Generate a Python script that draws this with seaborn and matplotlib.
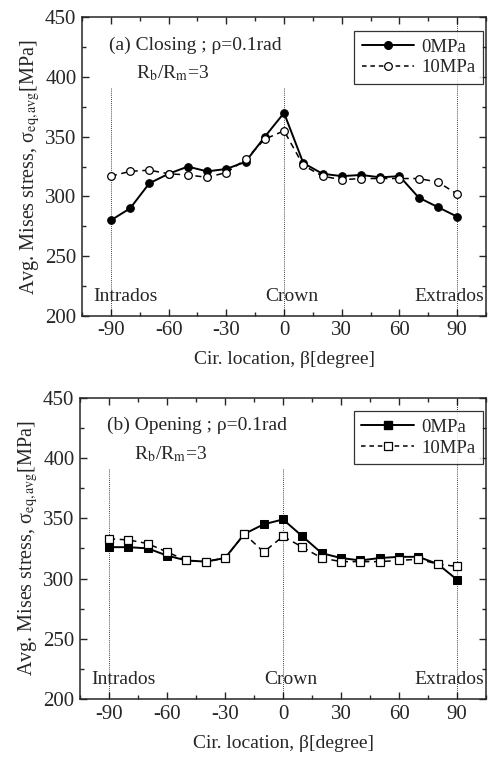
import numpy as np
import pandas as pd
import matplotlib
matplotlib.use("Agg")
import matplotlib.pyplot as plt
from matplotlib.ticker import MultipleLocator
from matplotlib.lines import Line2D
import seaborn as sns

sns.set_style("ticks")
plt.rcParams['font.family'] = ['Liberation Serif', 'DejaVu Serif']
plt.rcParams['mathtext.fontset'] = 'stix'
plt.rcParams['axes.unicode_minus'] = False

# circumferential location, degrees
beta = [-90, -80, -70, -60, -50, -40, -30, -20, -10, 0,
        10, 20, 30, 40, 50, 60, 70, 80, 90]

# (a) closing
closing_0 = [280, 290, 311, 319, 325, 321, 323, 329, 350, 370,
             328, 319, 317, 318, 316, 317, 299, 291, 283]
closing_10 = [317, 321, 322, 319, 318, 316, 320, 331, 348, 355,
              326, 317, 314, 315, 315, 315, 315, 312, 302]

# (b) opening
opening_0 = [326, 326, 325, 319, 315, 314, 317, 337, 345, 349,
             335, 321, 317, 315, 317, 318, 318, 312, 299]
opening_10 = [333, 332, 329, 322, 315, 314, 317, 337, 322, 335,
              326, 317, 314, 314, 314, 315, 316, 312, 310]

pressures = ['0MPa', '10MPa']

fig = plt.figure(figsize=(4.91, 7.59), dpi=100)
ax1 = fig.add_axes([0.167, 0.584, 0.823, 0.393])
ax2 = fig.add_axes([0.163, 0.079, 0.827, 0.397])


def panel(ax, y0, y10, marker, title):
    df = pd.DataFrame({'beta': beta * 2,
                       'stress': y0 + y10,
                       'p': [pressures[0]] * len(beta) + [pressures[1]] * len(beta)})
    # guide lines at intrados / crown / extrados
    for xv in (-90, 0, 90):
        ax.plot([xv, xv], [200, 392 if xv != 90 else 450], color='black',
                lw=0.6, ls=(0, (1, 1.5)), zorder=1)
    sns.lineplot(data=df[df.p == '0MPa'], x='beta', y='stress', ax=ax,
                 color='black', lw=1.4, marker=marker, ms=5.5,
                 mfc='black', mec='black', zorder=3)
    sns.lineplot(data=df[df.p == '10MPa'], x='beta', y='stress', ax=ax,
                 color='black', lw=1.1, ls=(0, (4, 3)), marker=marker, ms=5.5,
                 mfc='white', mec='black', mew=0.9, zorder=4)

    ax.set_xlim(-105, 105)
    ax.set_ylim(200, 450)
    ax.xaxis.set_major_locator(MultipleLocator(30))
    ax.xaxis.set_minor_locator(MultipleLocator(15))
    ax.yaxis.set_major_locator(MultipleLocator(50))
    ax.yaxis.set_minor_locator(MultipleLocator(25))
    ax.tick_params(which='both', direction='in', top=True, right=True,
                   labelsize=15, width=1.0)
    ax.tick_params(which='major', length=5, pad=4)
    ax.tick_params(which='minor', length=3)
    for s in ax.spines.values():
        s.set_linewidth(1.1)
    ax.set_xlabel('Cir. location, β[degree]', fontsize=14, labelpad=8)
    ax.set_ylabel(r'Avg. Mises stress, σ$_{\rm eq,avg}$[MPa]', fontsize=14.5, labelpad=2)

    ax.text(-99, 216, 'Intrados', fontsize=14, ha='left', va='center')
    ax.text(4, 216, 'Crown', fontsize=14, ha='center', va='center')
    ax.text(104, 216, 'Extrados', fontsize=14, ha='right', va='center')
    ax.text(-91, 427, title, fontsize=14, ha='left', va='center')
    ax.text(-77, 403, r'R$_{\rm b}$/R$_{\rm m}$=3', fontsize=14, ha='left', va='center')

    handles = [Line2D([], [], color='black', lw=1.4, marker=marker, ms=5.5,
                      mfc='black', mec='black'),
               Line2D([], [], color='black', lw=1.1, ls=(0, (3, 2.5)), marker=marker, ms=5.5,
                      mfc='white', mec='black', mew=0.9)]
    leg = ax.legend(handles, pressures, loc='upper right', bbox_to_anchor=(0.993, 0.955),
                    fontsize=13.5, frameon=True, fancybox=False, edgecolor='black',
                    handlelength=2.8, handletextpad=0.4, borderpad=0.4,
                    labelspacing=0.2, borderaxespad=0.0)
    leg.get_frame().set_linewidth(0.9)


panel(ax1, closing_0, closing_10, 'o', '(a) Closing ; ρ=0.1rad')
panel(ax2, opening_0, opening_10, 's', '(b) Opening ; ρ=0.1rad')

fig.savefig('out.png', dpi=100)
